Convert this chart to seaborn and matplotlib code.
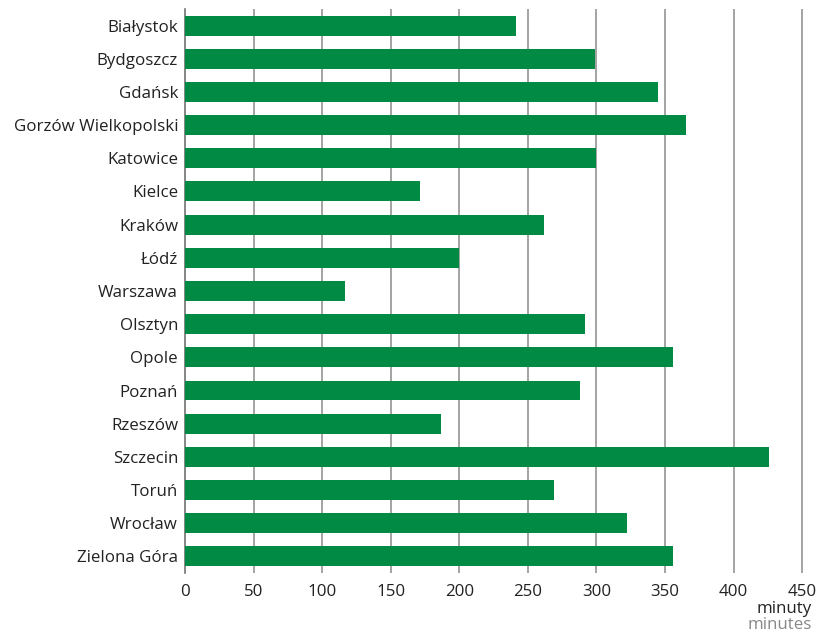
import matplotlib
matplotlib.use("Agg")
import matplotlib.pyplot as plt
import seaborn as sns
import pandas as pd

# travel time by rail to Warsaw, minutes
cities = ["Białystok", "Bydgoszcz", "Gdańsk", "Gorzów Wielkopolski", "Katowice",
          "Kielce", "Kraków", "Łódź", "Warszawa", "Olsztyn", "Opole", "Poznań",
          "Rzeszów", "Szczecin", "Toruń", "Wrocław", "Zielona Góra"]
minutes = [241, 299, 345, 365, 300, 171, 262, 200, 117, 292, 356, 288,
           187, 426, 269, 322, 356]
x_ticks = [0, 50, 100, 150, 200, 250, 300, 350, 400, 450]

df = pd.DataFrame({"city": cities, "minutes": minutes})

sns.set_style("white")
plt.rcParams["font.family"] = ["Open Sans", "DejaVu Sans"]

fig = plt.figure(figsize=(8.2, 6.32), dpi=100)
ax = fig.add_axes([0.2256, 0.0934, 0.7694, 0.8924])

sns.barplot(data=df, x="minutes", y="city", orient="h", color="#008a43",
            saturation=1, width=0.6, linewidth=0, ax=ax, zorder=3)

ax.set_xlim(0, 460)
ax.set_ylim(16.5, -0.5)
ax.set_xticks(x_ticks)
for t in x_ticks[1:]:
    ax.axvline(t, color="#8a8a8a", lw=1.1, zorder=1)

for s in ["top", "right", "bottom"]:
    ax.spines[s].set_visible(False)
ax.spines["left"].set_color("#666666")
ax.spines["left"].set_linewidth(1.1)

ax.tick_params(axis="y", length=0, pad=5, labelsize=12.2, labelcolor="#222222")
ax.tick_params(axis="x", length=0, pad=8, labelsize=12.2, labelcolor="#222222")
ax.set_xlabel("")
ax.set_ylabel("")

fig.text(0.99, 0.036, "minuty", ha="right", va="center", fontsize=12.2, color="#222222")
fig.text(0.99, 0.011, "minutes", ha="right", va="center", fontsize=12.2, color="#888888")

fig.savefig("out.png", dpi=100)
